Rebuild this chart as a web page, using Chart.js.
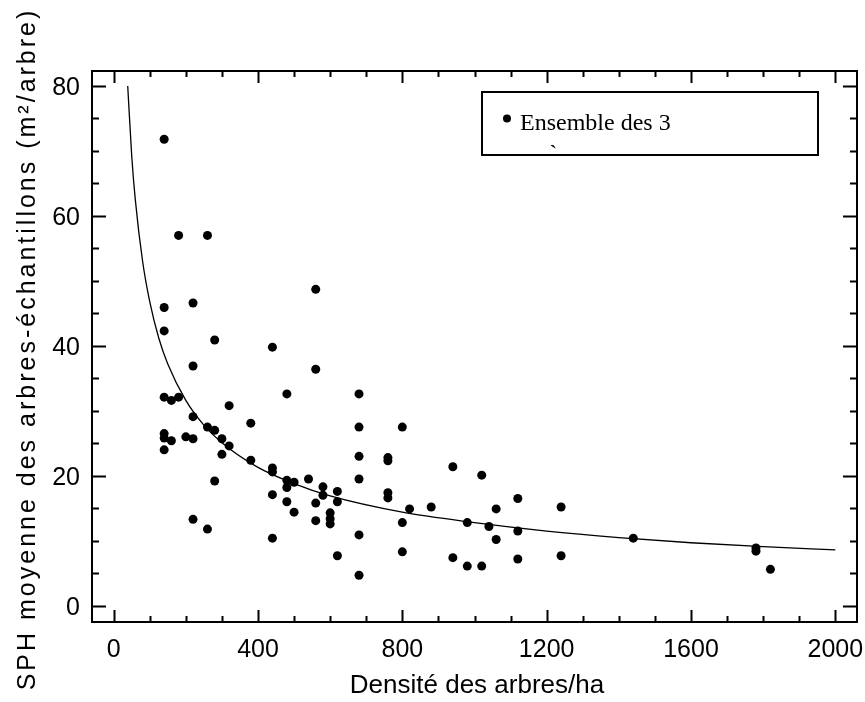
<!DOCTYPE html>
<html>
<head>
<meta charset="utf-8">
<title>SPH moyenne vs densité</title>
<script src="https://cdn.jsdelivr.net/npm/chart.js@4.4.1/dist/chart.umd.min.js"></script>
<style>
    body { margin: 0; background: #fff; }
    #wrap { width: 865px; height: 702px; position: relative; }
</style>
</head>
<body>
<div id="wrap"><canvas id="sphChart"></canvas></div>
<script>
// Observed points (density in trees/ha, mean SPH in m²/tree)
const densite = [
    140, 180, 260, 560, 140, 220, 140, 280, 440, 220,
    560, 140, 160, 180, 480, 680, 320, 220, 380, 260,
    280, 140, 140, 160, 200, 220, 300, 320, 140, 300,
    380, 440, 440, 440, 480, 480, 500, 480, 500, 540,
    560, 560, 580, 580, 600, 600, 600, 620, 620, 620,
    220, 260, 280, 440, 680, 680, 680, 680, 680, 800,
    760, 760, 760, 760, 800, 800, 820, 880, 940, 940,
    980, 980, 1020, 1020, 1040, 1060, 1060, 1120, 1120, 1120,
    1240, 1240, 1440, 1780, 1780, 1820
];
const sph = [
    71.8, 57.0, 57.0, 48.7, 45.9, 46.6, 42.3, 40.9, 39.8, 36.9,
    36.4, 32.1, 31.6, 32.1, 32.6, 32.6, 30.8, 29.1, 28.1, 27.5,
    27.0, 26.5, 25.8, 25.4, 26.0, 25.7, 25.7, 24.6, 24.0, 23.3,
    22.4, 21.2, 20.6, 17.1, 19.3, 18.2, 19.0, 16.0, 14.4, 19.5,
    15.8, 13.1, 18.3, 17.0, 14.3, 13.4, 12.6, 17.6, 16.0, 7.7,
    13.3, 11.8, 19.2, 10.4, 27.5, 23.0, 19.5, 10.9, 4.7, 27.5,
    22.8, 22.3, 17.4, 16.6, 12.8, 8.3, 14.9, 15.2, 21.4, 7.4,
    12.8, 6.1, 20.1, 6.1, 12.2, 14.9, 10.2, 16.5, 11.5, 7.2,
    15.2, 7.7, 10.4, 8.9, 8.4, 5.6
];

// Fitted curve
const fitX = [39, 50, 60, 80, 100, 125, 150, 200, 250, 300, 400, 500, 600, 800, 1000, 1200, 1400, 1600, 1800, 2000];
const fitY = [80, 69.3, 62.5, 53.1, 46.8, 41.2, 37.2, 31.6, 27.8, 25.1, 21.3, 18.8, 16.9, 14.4, 12.8, 11.5, 10.5, 9.7, 9.1, 8.6];

const xTicks = [0, 400, 800, 1200, 1600, 2000];
const yTicks = [0, 20, 40, 60, 80];
const xMinorStep = 100;
const yMinorStep = 5;

const xTitle = 'Densité des arbres/ha';
const yTitle = 'SPH moyenne des arbres-échantillons (m²/arbre)';
const legendLines = ['Ensemble des 3', 'espèces'];

const scatterPoints = densite.map((d, i) => ({ x: d, y: sph[i] }));
const fitPoints = fitX.map((d, i) => ({ x: d, y: fitY[i] }));

// Frame, inward ticks, labels, titles and the boxed legend
const framePlugin = {
    id: 'frame',
    afterDraw(chart) {
        const ctx = chart.ctx;
        const area = chart.chartArea;
        const xs = chart.scales.x;
        const ys = chart.scales.y;
        ctx.save();
        ctx.strokeStyle = '#000';
        ctx.fillStyle = '#000';

        ctx.lineWidth = 2;
        ctx.strokeRect(area.left, area.top, area.right - area.left, area.bottom - area.top);

        // x ticks, bottom and top
        for (let v = 0; v <= 2000; v += xMinorStep) {
            const px = Math.round(xs.getPixelForValue(v)) + 0.5;
            const len = xTicks.includes(v) ? 12 : 6;
            ctx.beginPath();
            ctx.moveTo(px, area.bottom);
            ctx.lineTo(px, area.bottom - len);
            ctx.moveTo(px, area.top);
            ctx.lineTo(px, area.top + len);
            ctx.stroke();
        }
        // y ticks, left and right
        for (let v = 0; v <= 80; v += yMinorStep) {
            const py = Math.round(ys.getPixelForValue(v)) + 0.5;
            const len = yTicks.includes(v) ? 14 : 7;
            ctx.beginPath();
            ctx.moveTo(area.left, py);
            ctx.lineTo(area.left + len, py);
            ctx.moveTo(area.right, py);
            ctx.lineTo(area.right - len, py);
            ctx.stroke();
        }

        ctx.font = '25px "Liberation Sans", Arial, sans-serif';
        ctx.textBaseline = 'alphabetic';
        ctx.textAlign = 'center';
        xTicks.forEach(v => {
            ctx.fillText(String(v), xs.getPixelForValue(v), 657);
        });
        ctx.textAlign = 'right';
        yTicks.forEach(v => {
            ctx.fillText(String(v), 80, ys.getPixelForValue(v) + 9);
        });

        // axis titles
        ctx.font = '26px "Liberation Sans", Arial, sans-serif';
        ctx.textAlign = 'center';
        ctx.fillText(xTitle, 477, 693);

        ctx.save();
        ctx.translate(35, 349);
        ctx.rotate(-Math.PI / 2);
        ctx.font = '25px "Liberation Sans", Arial, sans-serif';
        ctx.letterSpacing = '3px';
        ctx.fillText(yTitle, 0, 0);
        ctx.restore();

        // legend box
        ctx.lineWidth = 2;
        ctx.strokeRect(482, 92, 336, 63);
        ctx.beginPath();
        ctx.arc(507, 118.5, 4, 0, Math.PI * 2);
        ctx.fill();
        ctx.font = '24px "Liberation Serif", "Times New Roman", serif';
        ctx.textAlign = 'left';
        ctx.fillText(legendLines[0], 520, 130);
        ctx.save();
        ctx.beginPath();
        ctx.rect(483, 93, 334, 57);
        ctx.clip();
        ctx.fillText(legendLines[1], 516, 161);
        ctx.restore();

        ctx.restore();
    }
};

const ctx = document.getElementById('sphChart').getContext('2d');
const sphChart = new Chart(ctx, {
    type: 'scatter',
    data: {
        datasets: [
            {
                label: 'Ensemble des 3 espèces',
                data: scatterPoints,
                backgroundColor: '#000',
                borderColor: '#000',
                pointRadius: 4.5,
                pointBorderWidth: 0,
                showLine: false,
                clip: false
            },
            {
                label: 'Ajustement',
                data: fitPoints,
                borderColor: '#000',
                borderWidth: 1.3,
                pointRadius: 0,
                showLine: true,
                cubicInterpolationMode: 'monotone',
                fill: false
            }
        ]
    },
    options: {
        responsive: true,
        maintainAspectRatio: false,
        animation: false,
        layout: {
            padding: { left: 92, top: 71, right: 8, bottom: 80 }
        },
        scales: {
            x: { type: 'linear', min: -60, max: 2060, display: false },
            y: { type: 'linear', min: -2.5, max: 82.3, display: false }
        },
        plugins: {
            legend: { display: false },
            tooltip: { enabled: false }
        }
    },
    plugins: [framePlugin]
});
</script>
</body>
</html>
